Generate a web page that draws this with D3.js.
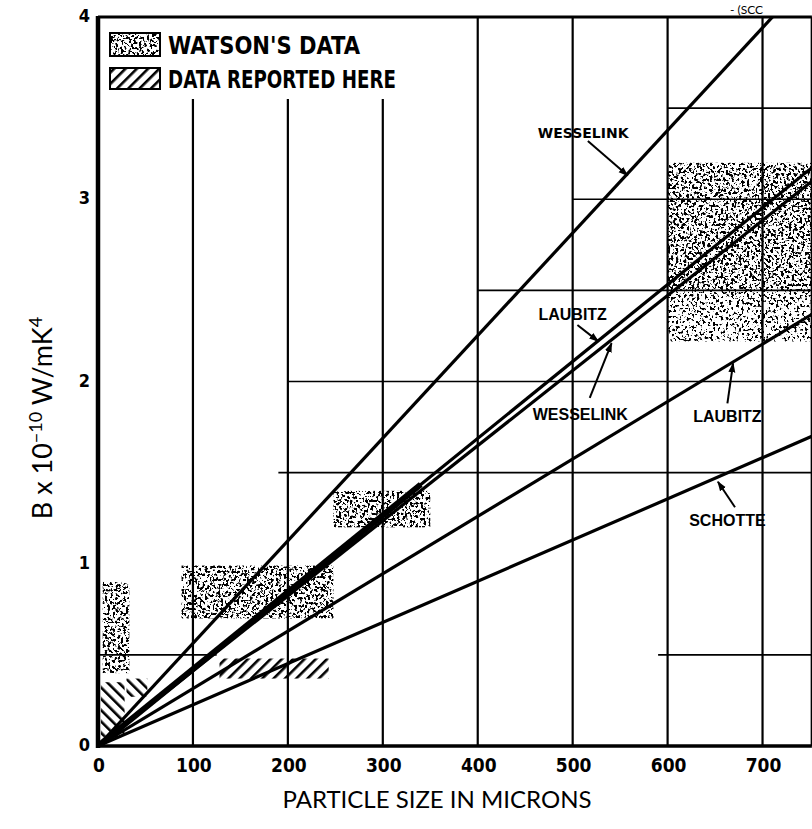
<!DOCTYPE html>
<html>
<head>
<meta charset="utf-8">
<script src="https://cdn.jsdelivr.net/npm/d3@7"></script>
<style>
  html, body { margin: 0; padding: 0; background: #fff; }
  svg { display: block; }
</style>
</head>
<body>
<svg id="chart" width="812" height="829"></svg>
<script>
// ── data ──────────────────────────────────────────────
const xTicks = [0, 100, 200, 300, 400, 500, 600, 700];
const yTicks = [0, 1, 2, 3, 4];

// model lines through the origin, B (x1e-10 W/mK^4) per micron
const lineNames  = ['WESSELINK', 'LAUBITZ', 'WESSELINK', 'LAUBITZ', 'SCHOTTE'];
const lineSlopes = [0.00563, 0.00422, 0.00412, 0.00315, 0.00226];

// Watson's data (speckled ranges)
const watsonX0 = [5, 88, 248, 600, 600];
const watsonX1 = [33, 248, 350, 752, 752];
const watsonLo = [0.40, 0.70, 1.20, 2.50, 2.22];
const watsonHi = [0.90, 0.99, 1.40, 3.20, 2.50];
const watsonDense = [1, 1, 1, 1, 0];

// data reported here (hatched ranges)
const hereX0 = [3, 30, 128];
const hereX1 = [28, 52, 243];
const hereLo = [0.05, 0.27, 0.37];
const hereHi = [0.35, 0.37, 0.48];
const hereDir = ['back', 'back', 'fwd'];

// partial grid
const gridX    = [100, 200, 300, 400, 500, 600, 700];
const gridXTop = [3.55, 3.55, 3.55, 4, 4, 4, 4];
const gridB     = [0.5, 0.5, 1.5, 2, 2.5, 3, 3.5];
const gridBFrom = [0, 590, 190, 200, 400, 500, 600];
const gridBTo   = [125, 752, 752, 752, 752, 752, 752];

// ── layout ────────────────────────────────────────────
const svg = d3.select('#chart');
const x = d3.scaleLinear().domain([0, 750]).range([98, 810]);
const y = d3.scaleLinear().domain([0, 4]).range([746, 17]);
const X_MAX = 752, Y_MAX = 4;

const defs = svg.append('defs');

// speckle texture: thresholded noise
function speckle(id, freq, slope, cut) {
  const f = defs.append('filter').attr('id', id)
    .attr('filterUnits', 'objectBoundingBox')
    .attr('x', 0).attr('y', 0).attr('width', 1).attr('height', 1);
  f.append('feTurbulence').attr('type', 'fractalNoise')
    .attr('baseFrequency', freq).attr('numOctaves', 2).attr('seed', 3).attr('result', 'n');
  f.append('feColorMatrix').attr('in', 'n').attr('type', 'matrix')
    .attr('values', `0 0 0 0 0  0 0 0 0 0  0 0 0 0 0  ${slope} 0 0 0 ${-cut}`).attr('result', 'a');
  f.append('feFlood').attr('flood-color', '#000').attr('result', 'k');
  f.append('feComposite').attr('in', 'k').attr('in2', 'a').attr('operator', 'in').attr('result', 'ka');
  f.append('feComposite').attr('in', 'ka').attr('in2', 'SourceAlpha').attr('operator', 'in');
}
speckle('spk', 0.38, 16, 8.3);
speckle('spkLight', 0.38, 16, 9.0);

function hatch(id, dir) {
  const p = defs.append('pattern').attr('id', id)
    .attr('patternUnits', 'userSpaceOnUse').attr('width', 8).attr('height', 8)
    .attr('patternTransform', `rotate(${dir === 'fwd' ? 45 : -45})`);
  p.append('rect').attr('x', 0).attr('y', 0).attr('width', 2.6).attr('height', 8).attr('fill', '#000');
}
hatch('hFwd', 'fwd');
hatch('hBack', 'back');

defs.append('marker').attr('id', 'arr')
  .attr('viewBox', '0 0 10 10').attr('refX', 9).attr('refY', 5)
  .attr('markerWidth', 10).attr('markerHeight', 10).attr('markerUnits', 'userSpaceOnUse')
  .attr('orient', 'auto')
  .append('path').attr('d', 'M0,1.5 L10,5 L0,8.5 Z').attr('fill', '#000');

const clip = defs.append('clipPath').attr('id', 'plot');
clip.append('rect').attr('x', x(0)).attr('y', y(Y_MAX)).attr('width', x(X_MAX) - x(0)).attr('height', y(0) - y(Y_MAX));

// ── grid ──────────────────────────────────────────────
const grid = svg.append('g').attr('stroke', '#000');
grid.selectAll('line.gx').data(gridX).join('line').attr('class', 'gx')
  .attr('x1', d => x(d)).attr('x2', d => x(d))
  .attr('y1', y(0)).attr('y2', (d, i) => y(gridXTop[i]))
  .attr('stroke-width', 2.2);
grid.selectAll('line.gy').data(gridB).join('line').attr('class', 'gy')
  .attr('y1', d => y(d)).attr('y2', d => y(d))
  .attr('x1', (d, i) => x(gridBFrom[i])).attr('x2', (d, i) => x(gridBTo[i]))
  .attr('stroke-width', 1.6);

// ── data ranges ───────────────────────────────────────
const plot = svg.append('g').attr('clip-path', 'url(#plot)');
plot.selectAll('rect.w').data(watsonX0).join('rect').attr('class', 'w')
  .attr('x', d => x(d)).attr('width', (d, i) => x(watsonX1[i]) - x(d))
  .attr('y', (d, i) => y(watsonHi[i])).attr('height', (d, i) => y(watsonLo[i]) - y(watsonHi[i]))
  .attr('fill', '#000')
  .attr('filter', (d, i) => watsonDense[i] ? 'url(#spk)' : 'url(#spkLight)');

plot.selectAll('rect.h').data(hereX0).join('rect').attr('class', 'h')
  .attr('x', d => x(d)).attr('width', (d, i) => x(hereX1[i]) - x(d))
  .attr('y', (d, i) => y(hereHi[i])).attr('height', (d, i) => y(hereLo[i]) - y(hereHi[i]))
  .attr('fill', (d, i) => hereDir[i] === 'fwd' ? 'url(#hFwd)' : 'url(#hBack)');

// ── model lines ───────────────────────────────────────
const lineEnd = s => Math.min(X_MAX, Y_MAX / s);
const lineGen = d3.line().x(d => x(d[0])).y(d => y(d[1]));
plot.selectAll('path.m').data(lineSlopes).join('path').attr('class', 'm')
  .attr('d', s => lineGen([[0, 0], [lineEnd(s), s * lineEnd(s)]]))
  .attr('fill', 'none').attr('stroke', '#000').attr('stroke-width', 3.2);
// heavy overlap of the Laubitz/Wesselink pair near the origin
plot.append('path')
  .attr('d', lineGen([[0, 0], [340, lineSlopes[1] * 340]]))
  .attr('fill', 'none').attr('stroke', '#000').attr('stroke-width', 6);

// ── frame ─────────────────────────────────────────────
const frame = svg.append('g').attr('stroke', '#000').attr('fill', 'none');
frame.append('line').attr('x1', x(0)).attr('x2', x(0)).attr('y1', y(Y_MAX) - 1).attr('y2', y(0) + 2).attr('stroke-width', 4.5);
frame.append('line').attr('x1', x(0) - 2).attr('x2', x(X_MAX)).attr('y1', y(0)).attr('y2', y(0)).attr('stroke-width', 3.5);
frame.append('line').attr('x1', x(0)).attr('x2', x(X_MAX)).attr('y1', y(Y_MAX)).attr('y2', y(Y_MAX)).attr('stroke-width', 3);
frame.append('line').attr('x1', x(X_MAX)).attr('x2', x(X_MAX)).attr('y1', y(Y_MAX)).attr('y2', y(0)).attr('stroke-width', 2.5);

// ── tick labels ───────────────────────────────────────
const tickFont = '"Liberation Sans Narrow", "DejaVu Sans Condensed", sans-serif';
svg.append('g').selectAll('text').data(xTicks).join('text')
  .attr('x', d => x(d) + 1).attr('y', y(0) + 26)
  .attr('text-anchor', 'middle').attr('font-family', tickFont)
  .attr('font-weight', 'bold').attr('font-size', 19).text(d => d);
svg.append('g').selectAll('text').data(yTicks).join('text')
  .attr('x', x(0) - 8).attr('y', d => y(d) + 5)
  .attr('text-anchor', 'end').attr('font-family', tickFont)
  .attr('font-weight', 'bold').attr('font-size', 18).text(d => d);

// ── axis titles ───────────────────────────────────────
svg.append('text').attr('x', 437).attr('y', 808).attr('text-anchor', 'middle')
  .attr('font-family', 'Lato, "Open Sans", sans-serif').attr('font-size', 24)
  .text('PARTICLE SIZE IN MICRONS');
const yt = svg.append('text').attr('transform', 'translate(52,418) rotate(-90)')
  .attr('text-anchor', 'middle')
  .attr('font-family', 'Lato, "Open Sans", sans-serif').attr('font-size', 27);
yt.append('tspan').text('B x 10');
yt.append('tspan').attr('dy', -10).attr('font-size', 18).text('\u221210');
yt.append('tspan').attr('dy', 10).text(' W/mK');
yt.append('tspan').attr('dy', -10).attr('font-size', 18).text('4');

// title fragment at the very top of the source scan
svg.append('text').attr('x', 730).attr('y', 14).attr('font-family', 'Lato, sans-serif')
  .attr('font-size', 12).text('- (SCC');

// ── legend ────────────────────────────────────────────
const legFont = '"Liberation Sans Narrow", "DejaVu Sans Condensed", sans-serif';
const leg = svg.append('g');
leg.append('rect').attr('x', 110).attr('y', 33).attr('width', 50).attr('height', 23)
  .attr('fill', '#000').attr('filter', 'url(#spk)');
leg.append('rect').attr('x', 110).attr('y', 33).attr('width', 50).attr('height', 23)
  .attr('fill', 'none').attr('stroke', '#000').attr('stroke-width', 2);
leg.append('rect').attr('x', 110).attr('y', 68).attr('width', 50).attr('height', 21)
  .attr('fill', 'url(#hFwd)').attr('stroke', '#000').attr('stroke-width', 2);
leg.append('text').attr('x', 168).attr('y', 54).attr('font-family', legFont)
  .attr('font-weight', 'bold').attr('font-size', 24).attr('textLength', 192)
  .attr('lengthAdjust', 'spacingAndGlyphs').text("WATSON'S  DATA");
leg.append('text').attr('x', 168).attr('y', 88).attr('font-family', legFont)
  .attr('font-weight', 'bold').attr('font-size', 24).attr('textLength', 228)
  .attr('lengthAdjust', 'spacingAndGlyphs').text('DATA  REPORTED HERE');

// ── annotations (data coords) ─────────────────────────
const notes = [
  { t: lineNames[0], at: [511, 3.37], from: [516, 3.32], to: [558, 3.13], heavy: true },
  { t: lineNames[1], at: [500, 2.37], from: [505, 2.31], to: [527, 2.22] },
  { t: lineNames[2], at: [508, 1.82], from: [518, 1.91], to: [541, 2.21] },
  { t: lineNames[3], at: [663, 1.81], from: [663, 1.88], to: [669, 2.10] },
  { t: lineNames[4], at: [663, 1.24], from: [671, 1.31], to: [653, 1.45] }
];
const ann = svg.append('g');
ann.selectAll('line').data(notes).join('line')
  .attr('x1', d => x(d.from[0])).attr('y1', d => y(d.from[1]))
  .attr('x2', d => x(d.to[0])).attr('y2', d => y(d.to[1]))
  .attr('stroke', '#000').attr('stroke-width', 2).attr('marker-end', 'url(#arr)');
ann.selectAll('text').data(notes).join('text')
  .attr('x', d => x(d.at[0])).attr('y', d => y(d.at[1]) + 6)
  .attr('text-anchor', 'middle')
  .attr('font-family', d => d.heavy ? '"DejaVu Sans", sans-serif' : '"Liberation Sans", sans-serif')
  .attr('font-weight', 'bold').attr('font-size', d => d.heavy ? 14 : 16)
  .text(d => d.t);
</script>
</body>
</html>
